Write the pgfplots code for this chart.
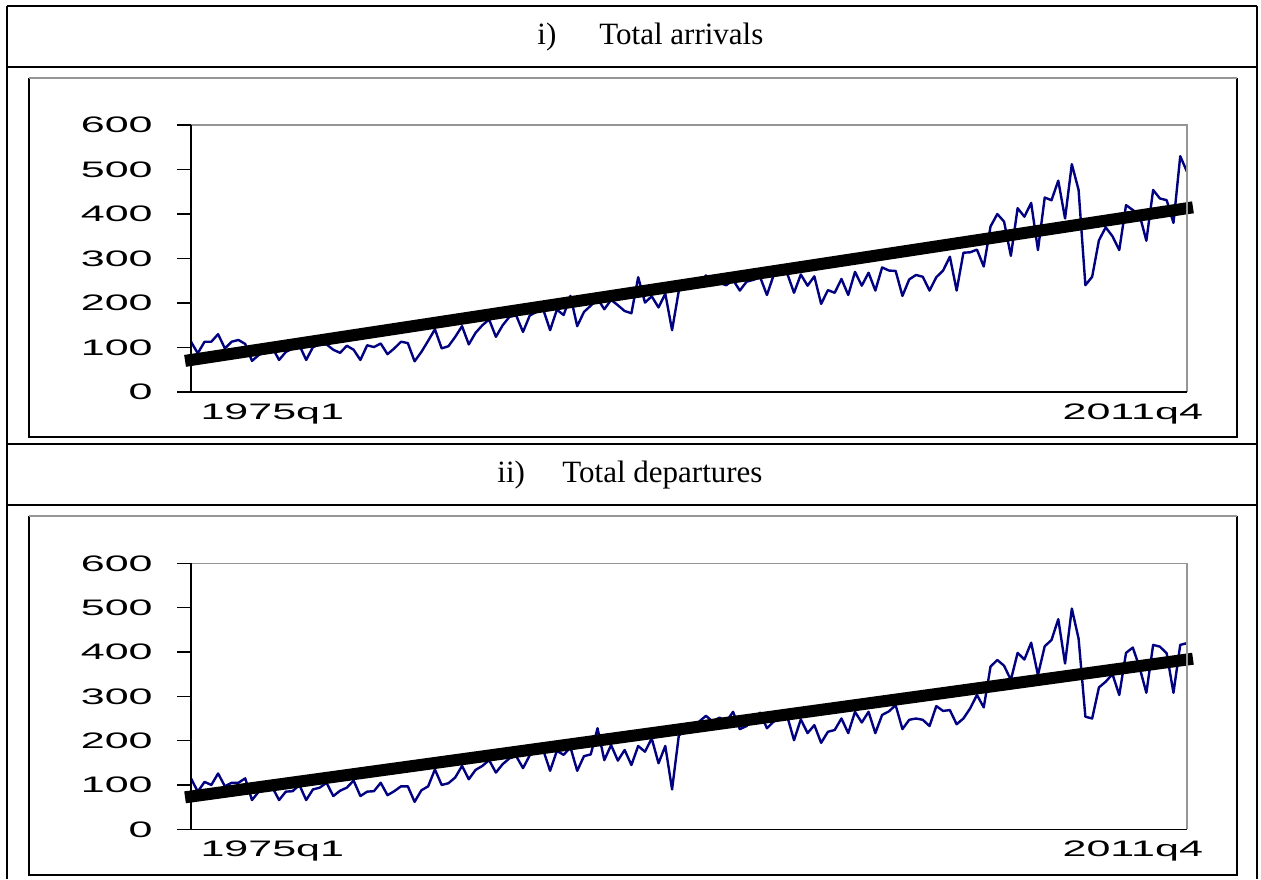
\documentclass[border=0pt]{standalone}
\usepackage{fontspec}
\setmainfont{Liberation Serif}
\newfontfamily\arial{Liberation Sans}
\usepackage{graphicx}
\usepackage{pgfplots}
\usepackage{pgfplotstable}
\pgfplotsset{compat=1.18}
\definecolor{navyline}{RGB}{0,0,128}
\definecolor{framegray}{RGB}{150,150,150}
\newcommand{\wide}[1]{\scalebox{1.92}[1]{#1}}

% quarterly series, 1975q1 = 0 ... 2011q4 = 147
\pgfplotstableread{
q arr dep
0 113 115
1 87 85
2 113 107
3 113 100
4 130 126
5 98 97
6 113 105
7 117 105
8 108 115
9 70 66
10 83 85
11 92 92
12 100 95
13 72 66
14 90 85
15 98 86
16 105 100
17 72 66
18 101 90
19 107 94
20 107 105
21 95 75
22 88 87
23 104 94
24 95 110
25 72 75
26 105 85
27 101 86
28 109 105
29 85 77
30 98 86
31 113 97
32 110 97
33 69 62
34 90 88
35 115 97
36 141 135
37 98 100
38 103 104
39 124 117
40 148 143
41 107 113
42 133 134
43 150 143
44 163 156
45 124 128
46 150 147
47 169 160
48 172 165
49 135 138
50 172 167
51 180 175
52 185 178
53 139 132
54 185 177
55 173 168
56 216 185
57 148 132
58 180 165
59 194 169
60 210 228
61 186 156
62 207 190
63 195 155
64 182 179
65 177 145
66 258 188
67 201 175
68 215 205
69 190 149
70 221 188
71 139 90
72 228 212
73 236 222
74 245 230
75 240 243
76 262 256
77 240 243
78 245 252
79 240 243
80 252 265
81 228 226
82 248 233
83 252 248
84 258 263
85 218 228
86 263 243
87 265 250
88 266 255
89 223 201
90 264 248
91 239 217
92 260 235
93 198 195
94 229 220
95 223 224
96 254 250
97 218 217
98 270 265
99 239 241
100 268 265
101 228 217
102 280 258
103 273 266
104 272 280
105 216 226
106 253 247
107 263 250
108 259 247
109 228 233
110 258 278
111 273 267
112 304 269
113 228 237
114 313 250
115 314 273
116 320 303
117 282 275
118 372 367
119 400 382
120 383 369
121 306 337
122 413 398
123 394 383
124 425 421
125 319 348
126 437 413
127 431 427
128 475 474
129 390 374
130 512 498
131 454 430
132 240 254
133 259 250
134 341 320
135 370 333
136 350 350
137 319 303
138 420 398
139 409 410
140 398 365
141 340 308
142 454 416
143 435 412
144 431 397
145 380 308
146 530 416
147 495 420
}\flows

\pgfplotsset{
  flowaxis/.style={
    scale only axis,
    width=498pt,
    anchor=south west,
    xmin=0, xmax=147, ymin=0, ymax=600,
    clip=false,
    axis line style={draw=none},
    tick align=outside,
    major tick length=7pt,
    ytick pos=left,
    ytick={0,100,200,300,400,500,600},
    yticklabels={\wide{0},\wide{100},\wide{200},\wide{300},\wide{400},\wide{500},\wide{600}},
    ytick style={black, line width=0.75pt},
    xtick={12,139},
    xticklabels={\wide{1975q1},\wide{2011q4}},
    xtick style={draw=none, /pgfplots/major tick length=0pt},
    tick label style={font=\arial\fontsize{11.2}{13}\selectfont},
    yticklabel style={anchor=east, inner sep=0pt, xshift=-12pt},
    xticklabel style={anchor=north, inner sep=0pt, yshift=1.5pt},
    after end axis/.code={
      \draw[framegray, line width=0.75pt] (rel axis cs:0,1) -- (rel axis cs:1,1) -- (rel axis cs:1,0);
      \draw[black, line width=0.75pt] (rel axis cs:0,0) -- (rel axis cs:1,0);
      \draw[black, line width=1.4pt] (rel axis cs:0,0) -- (rel axis cs:0,1);
    },
  },
}

\begin{document}
\begin{tikzpicture}
\useasboundingbox (0,0) rectangle (630.5pt,-439.5pt);

\begin{scope}[x=0.5pt, y=-0.5pt]
  % table rules
  \draw[line width=0.9pt] (7,6) -- (1257,6);
  \draw[line width=0.9pt] (7,67) -- (1257,67);
  \draw[line width=0.9pt] (7,444) -- (1257,444);
  \draw[line width=0.9pt] (7,505) -- (1257,505);
  \draw[line width=0.9pt] (7,6) -- (7,879);
  \draw[line width=0.9pt] (1257,6) -- (1257,879);
  % chart frames
  \draw[line width=0.8pt] (29,78) -- (29,437) -- (1237,437) -- (1237,78);
  \draw[framegray, line width=0.6pt] (29,78) -- (1237,78);
  \draw[line width=0.8pt] (29,516) -- (29,875) -- (1237,875) -- (1237,516);
  \draw[framegray, line width=0.6pt] (29,516) -- (1237,516);
  % panel headings
  \node[anchor=base west, inner sep=0pt, font=\fontsize{15.5}{18}\selectfont] at (537,44) {i)};
  \node[anchor=base west, inner sep=0pt, font=\fontsize{15.5}{18}\selectfont] at (599,44) {Total arrivals};
  \node[anchor=base west, inner sep=0pt, font=\fontsize{15.5}{18}\selectfont] at (497,482) {ii)};
  \node[anchor=base west, inner sep=0pt, font=\fontsize{15.5}{18}\selectfont] at (562,482) {Total departures};
\end{scope}

\begin{axis}[flowaxis, at={(95.5pt,-196pt)}, height=133.5pt]
  \addplot[navyline, line width=1.2pt, line join=round] table[x=q, y=arr] {\flows};
  \addplot[black, line width=6pt, line cap=rect] coordinates {(0,72) (147,413)};
\end{axis}

\begin{axis}[flowaxis, at={(95.5pt,-414.65pt)}, height=133pt]
  \addplot[navyline, line width=1.2pt, line join=round] table[x=q, y=dep] {\flows};
  \addplot[black, line width=6pt, line cap=rect] coordinates {(0,74) (147,383)};
\end{axis}
\end{tikzpicture}
\end{document}
